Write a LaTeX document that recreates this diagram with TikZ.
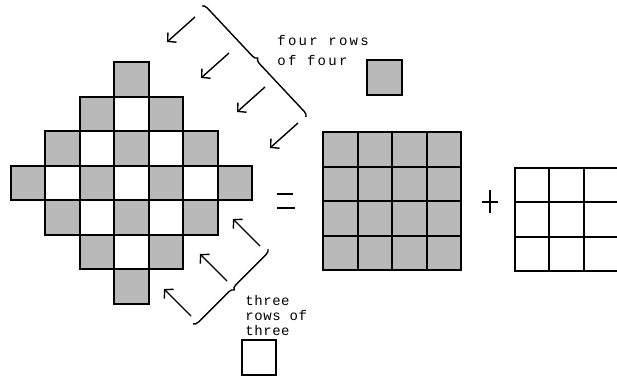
\documentclass[tikz,border=0pt]{standalone}
\usepackage{fontspec}
\usepackage{tikz}
\usetikzlibrary{arrows.meta,decorations.pathreplacing}
\newfontfamily\handfont[LetterSpace=16]{Liberation Mono}
\newfontfamily\handfontb[LetterSpace=4]{Liberation Mono}
\definecolor{dotgray}{HTML}{B9B9B9}

\begin{document}
\begin{tikzpicture}[x=0.5pt,y=-0.5pt,
  cell/.style={draw,line width=1pt,minimum size=17.25pt,inner sep=0pt,outer sep=0pt},
  sh/.style={fill=dotgray},
  wh/.style={fill=white},
  ar/.style={-{Straight Barb[length=3pt,width=6.5pt]},line width=0.7pt},
  br/.style={decorate,decoration={brace,amplitude=2.5pt},line width=0.7pt},
  lb/.style={font=\handfont\fontsize{7}{7.5}\selectfont,align=left,inner sep=0pt,anchor=base west}]
\useasboundingbox (0,0) rectangle (617,376);
% diamond of 4x4 shaded and 3x3 white
\foreach \r in {0,...,6}{
  \pgfmathtruncatemacro\dd{abs(\r-3)}
  \pgfmathtruncatemacro\ee{6-\dd}
  \foreach \j in {\dd,...,\ee}{
    \ifodd\numexpr\j+\dd\relax \def\st{wh}\else\def\st{sh}\fi
    \node[cell,\st] (dm\r\j) at ({27.75+\j*34.5},{79.25+\r*34.5}) {};
  }
}
% equals
\draw[line width=1pt] (277,194) -- (293,194) (277,208) -- (295,208);
% four by four
\foreach \i in {0,...,3}
  \foreach \j in {0,...,3}
    \node[cell,sh] (sq\i\j) at ({340.25+\j*34.5},{149.25+\i*34.5}) {};
% plus
\draw[line width=1pt] (482,202) -- (498,202) (490,190) -- (490,213);
% three by three
\foreach \i in {0,...,2}
  \foreach \j in {0,...,2}
    \node[cell,wh] (tr\i\j) at ({531.75+\j*34.5},{184.75+\i*34.5}) {};
% arrows and braces
\foreach \x/\y in {195/17,229/53,265/87,298/123}
  \draw[ar] (\x,\y) -- ++(-28,25);
\foreach \x/\y in {260/246,227/281,191/316}
  \draw[ar] (\x,\y) -- ++(-27,-27);
\draw[br] (202,6) -- (306,117);
\draw[br] (268,249) -- (193,324);
% labels
\node[lb] (four) at (277,65) {four rows\\[2.5pt]of four};
\node[cell,sh] (key4) at (384.5,77.5) {};
\node[lb,font=\handfontb\fontsize{7}{7.5}\selectfont] (three) at (245,335) {three\\rows of\\three};
\node[cell,wh] (key3) at (259,357.5) {};
\end{tikzpicture}
\end{document}
